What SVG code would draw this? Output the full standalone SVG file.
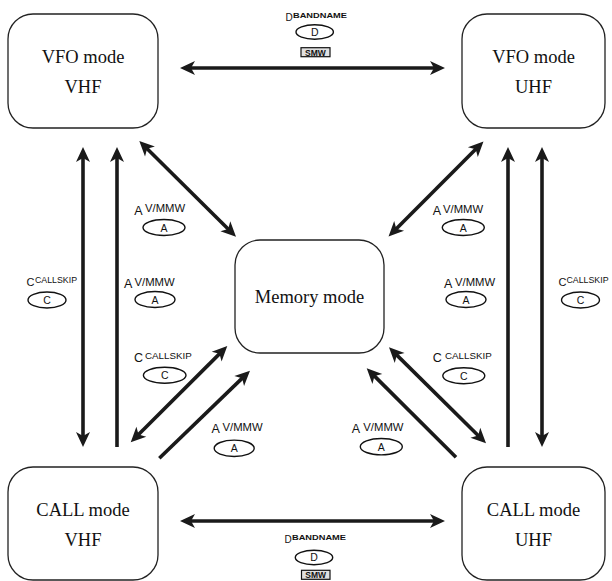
<svg xmlns="http://www.w3.org/2000/svg" width="612" height="581" viewBox="0 0 612 581">
<style>
.box{fill:#fff;stroke:#222;stroke-width:1.3}
.bt{font-family:"Liberation Serif","Times New Roman",serif;font-size:18.5px;fill:#111;text-anchor:middle}
.cn{fill:none;stroke:#1a1a1a;stroke-width:3.6}
.ell{fill:#fff;stroke:#111;stroke-width:1.4}
.big{font-family:"Liberation Sans",Arial,sans-serif;font-size:12.5px;fill:#111}
.sup{font-family:"Liberation Sans",Arial,sans-serif;font-size:11.3px;fill:#111}
.sup2{font-family:"Liberation Sans",Arial,sans-serif;font-size:9.8px;fill:#111}
.sup3{font-family:"Liberation Sans",Arial,sans-serif;font-size:8.8px;fill:#111}
.key{font-family:"Liberation Sans",Arial,sans-serif;font-size:10.5px;fill:#111;text-anchor:middle}
.bn{font-family:"Liberation Sans",Arial,sans-serif;font-size:8px;font-weight:bold;fill:#111}
.smw{fill:#e0e0e0;stroke:#111;stroke-width:1.2}
.smwt{font-family:"Liberation Sans",Arial,sans-serif;font-size:8.5px;font-weight:bold;fill:#111;text-anchor:middle}
</style>
<defs>
<marker id="ah" viewBox="-16 -8 28 16" markerWidth="28" markerHeight="16" refX="0" refY="0" orient="auto-start-reverse" markerUnits="userSpaceOnUse">
<path d="M10,0 L-5,-7 L-1,0 L-5,7 Z" fill="#1a1a1a"/>
</marker>
</defs>

<g id="vfo-vhf">
<rect class="box" x="8" y="14" width="150" height="114" rx="25"/>
<text class="bt" x="83" y="63">VFO mode</text>
<text class="bt" x="83" y="93">VHF</text>
</g>
<g id="vfo-uhf">
<rect class="box" x="462" y="14" width="143" height="114" rx="25"/>
<text class="bt" x="533.5" y="63">VFO mode</text>
<text class="bt" x="533.5" y="93">UHF</text>
</g>
<g id="memory">
<rect class="box" x="235" y="240" width="149" height="113" rx="25"/>
<text class="bt" x="309.5" y="303">Memory mode</text>
</g>
<g id="call-vhf">
<rect class="box" x="8" y="467" width="150" height="113" rx="25"/>
<text class="bt" x="83" y="516">CALL mode</text>
<text class="bt" x="83" y="546">VHF</text>
</g>
<g id="call-uhf">
<rect class="box" x="462" y="467" width="143" height="113" rx="25"/>
<text class="bt" x="533.5" y="516">CALL mode</text>
<text class="bt" x="533.5" y="546">UHF</text>
</g>

<g id="connectors">
<line class="cn" x1="190" y1="68" x2="435" y2="68" marker-start="url(#ah)" marker-end="url(#ah)"/>
<line class="cn" x1="190" y1="521" x2="435" y2="521" marker-start="url(#ah)" marker-end="url(#ah)"/>
<line class="cn" x1="83" y1="157" x2="83" y2="437" marker-start="url(#ah)" marker-end="url(#ah)"/>
<line class="cn" x1="117" y1="447" x2="117" y2="157" marker-end="url(#ah)"/>
<line class="cn" x1="508" y1="447" x2="508" y2="157" marker-end="url(#ah)"/>
<line class="cn" x1="542" y1="157" x2="542" y2="437" marker-start="url(#ah)" marker-end="url(#ah)"/>
<line class="cn" x1="146.4" y1="148" x2="228.9" y2="229.7" marker-start="url(#ah)" marker-end="url(#ah)"/>
<line class="cn" x1="476.4" y1="148.6" x2="395.6" y2="229.4" marker-start="url(#ah)" marker-end="url(#ah)"/>
<line class="cn" x1="220.2" y1="353.1" x2="137.8" y2="435.2" marker-start="url(#ah)" marker-end="url(#ah)"/>
<line class="cn" x1="159.3" y1="458.3" x2="242.8" y2="377.6" marker-end="url(#ah)"/>
<line class="cn" x1="396.1" y1="354.4" x2="478.9" y2="436.2" marker-start="url(#ah)" marker-end="url(#ah)"/>
<line class="cn" x1="456" y1="457.3" x2="373.8" y2="375.4" marker-end="url(#ah)"/>
</g>

<g id="label-top">
<text class="big" x="285.5" y="20.7" style="font-size:10px">D</text>
<text class="bn" x="293" y="17.5" textLength="54" lengthAdjust="spacingAndGlyphs">BANDNAME</text>
<ellipse class="ell" cx="314.7" cy="32" rx="18.7" ry="7.2"/>
<text class="key" x="314.7" y="35.8">D</text>
<rect class="smw" x="301" y="47.7" width="29" height="9"/>
<text class="smwt" x="315.5" y="55.5">SMW</text>
</g>
<g id="label-bottom">
<text class="big" x="284.5" y="543" style="font-size:10px">D</text>
<text class="bn" x="292" y="540" textLength="54" lengthAdjust="spacingAndGlyphs">BANDNAME</text>
<ellipse class="ell" cx="314" cy="557.5" rx="18.7" ry="7.2"/>
<text class="key" x="314" y="561.3">D</text>
<rect class="smw" x="301.5" y="570.3" width="28.5" height="9"/>
<text class="smwt" x="315.7" y="578">SMW</text>
</g>

<g id="label-tl">
<text class="big" x="134.3" y="215">A</text>
<text class="sup" x="145" y="212.3">V/MMW</text>
<ellipse class="ell" cx="164" cy="227.5" rx="21" ry="8"/>
<text class="key" x="164" y="231.5">A</text>
</g>
<g id="label-tr">
<text class="big" x="432.7" y="215">A</text>
<text class="sup" x="443" y="212.5">V/MMW</text>
<ellipse class="ell" cx="463.3" cy="227.5" rx="21" ry="8"/>
<text class="key" x="463.3" y="231.5">A</text>
</g>
<g id="label-ml">
<text class="big" x="124" y="288.3">A</text>
<text class="sup" x="134.5" y="286">V/MMW</text>
<ellipse class="ell" cx="155" cy="299.5" rx="20" ry="8"/>
<text class="key" x="155" y="303.5">A</text>
</g>
<g id="label-mr">
<text class="big" x="444" y="288.3">A</text>
<text class="sup" x="455" y="286">V/MMW</text>
<ellipse class="ell" cx="466" cy="299.5" rx="20" ry="8"/>
<text class="key" x="466" y="303.5">A</text>
</g>
<g id="label-bl">
<text class="big" x="211.5" y="433.3">A</text>
<text class="sup" x="222.5" y="431">V/MMW</text>
<ellipse class="ell" cx="234.2" cy="448.3" rx="20" ry="8.2"/>
<text class="key" x="234.2" y="452.3">A</text>
</g>
<g id="label-br">
<text class="big" x="351.7" y="433">A</text>
<text class="sup" x="363.3" y="431">V/MMW</text>
<ellipse class="ell" cx="381.3" cy="446.7" rx="21" ry="8.2"/>
<text class="key" x="381.3" y="450.7">A</text>
</g>
<g id="label-cl">
<text class="big" x="26.5" y="285.5" style="font-size:11px">C</text>
<text class="sup3" x="35" y="283">CALLSKIP</text>
<ellipse class="ell" cx="47" cy="300" rx="19" ry="8"/>
<text class="key" x="47" y="304">C</text>
</g>
<g id="label-cr">
<text class="big" x="558.5" y="285.5" style="font-size:11px">C</text>
<text class="sup3" x="566.5" y="283">CALLSKIP</text>
<ellipse class="ell" cx="580.5" cy="300" rx="19" ry="8"/>
<text class="key" x="580.5" y="304">C</text>
</g>
<g id="label-cbl">
<text class="big" x="134" y="362.3">C</text>
<text class="sup2" x="145" y="359.3">CALLSKIP</text>
<ellipse class="ell" cx="164.7" cy="375.3" rx="21.3" ry="8"/>
<text class="key" x="164.7" y="379.3">C</text>
</g>
<g id="label-cbr">
<text class="big" x="432.7" y="362.3">C</text>
<text class="sup2" x="445" y="359.3">CALLSKIP</text>
<ellipse class="ell" cx="463.8" cy="375.8" rx="21" ry="8"/>
<text class="key" x="463.8" y="379.8">C</text>
</g>
</svg>
